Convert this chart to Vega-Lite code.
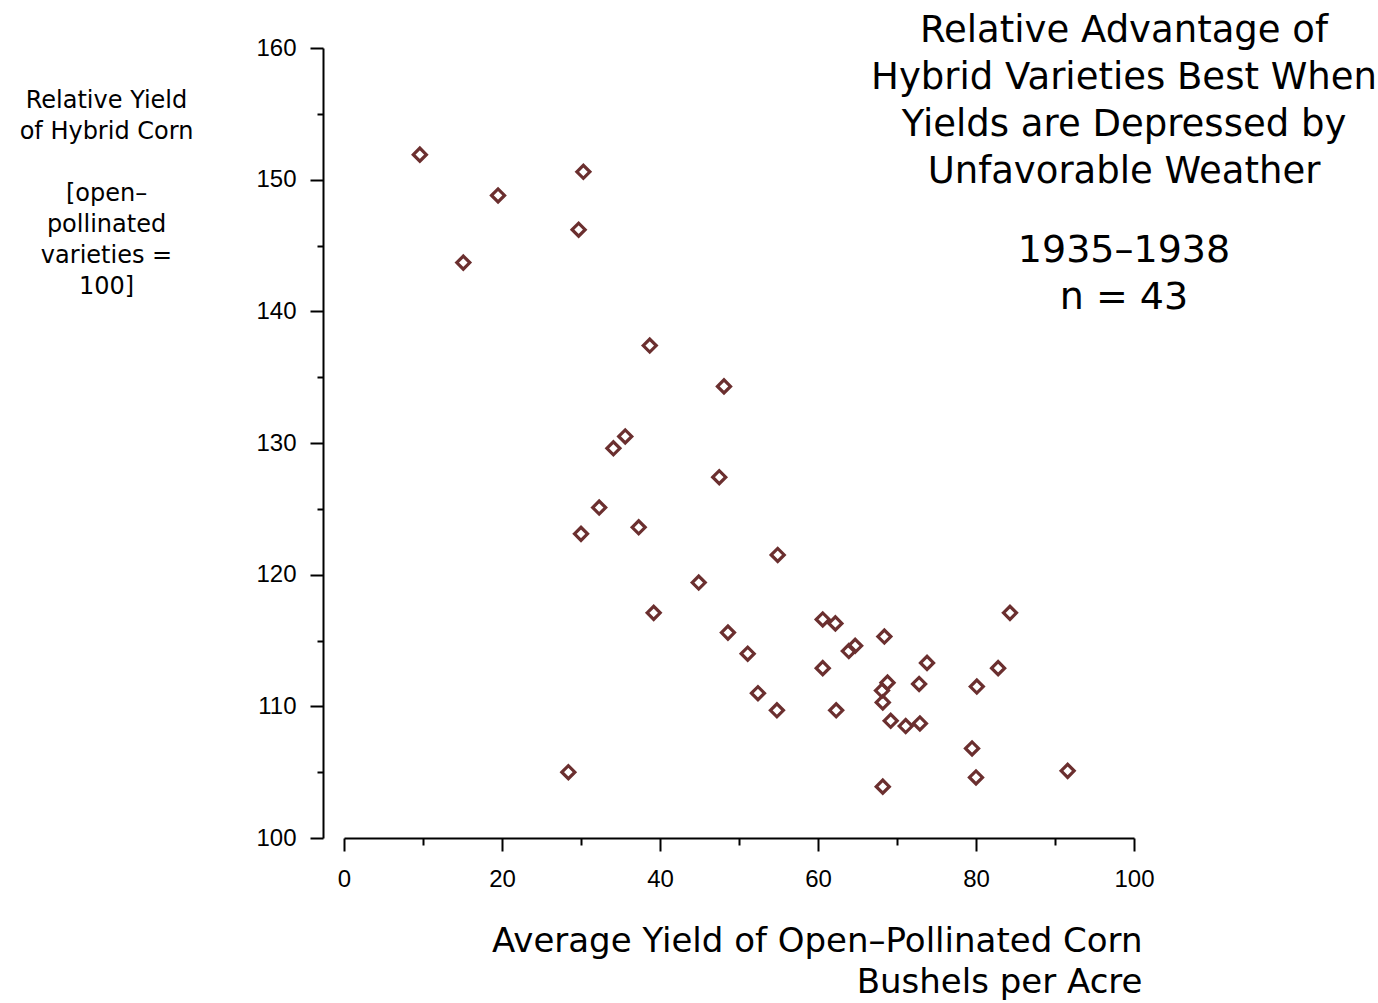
{
  "$schema": "https://vega.github.io/schema/vega-lite/v6.json",
  "width": 790,
  "height": 790,
  "autosize": {"type": "none"},
  "padding": {"left": 344, "top": 48, "right": 244, "bottom": 165},
  "background": "white",
  "config": {
    "view": {"stroke": null},
    "axis": {
      "grid": false,
      "domainColor": "black",
      "tickColor": "black",
      "domainWidth": 2,
      "tickWidth": 2,
      "labelFont": "Liberation Sans",
      "labelFontSize": 24,
      "labelColor": "black",
      "labelFlush": false,
      "titleColor": "black"
    }
  },
  "title": {
    "text": ["Relative Advantage of", "Hybrid Varieties Best When", "Yields are Depressed by", "Unfavorable Weather"],
    "subtitle": ["1935–1938", "n = 43"],
    "orient": "top",
    "anchor": "end",
    "align": "center",
    "frame": "group",
    "font": "DejaVu Sans",
    "fontSize": 37,
    "fontWeight": "normal",
    "lineHeight": 47,
    "color": "black",
    "subtitleFont": "DejaVu Sans",
    "subtitleFontSize": 38,
    "subtitleLineHeight": 47,
    "subtitleColor": "black",
    "subtitlePadding": 41,
    "offset": 0,
    "dx": -10,
    "dy": 282
  },
  "data": {
    "values": [
      {"x": 9.6, "y": 151.9},
      {"x": 15.1, "y": 143.7},
      {"x": 19.5, "y": 148.8},
      {"x": 30.3, "y": 150.6},
      {"x": 29.7, "y": 146.2},
      {"x": 28.4, "y": 105.0},
      {"x": 30.0, "y": 123.1},
      {"x": 32.3, "y": 125.1},
      {"x": 34.1, "y": 129.6},
      {"x": 35.6, "y": 130.5},
      {"x": 37.3, "y": 123.6},
      {"x": 38.7, "y": 137.4},
      {"x": 39.2, "y": 117.1},
      {"x": 44.9, "y": 119.4},
      {"x": 47.5, "y": 127.4},
      {"x": 48.1, "y": 134.3},
      {"x": 48.6, "y": 115.6},
      {"x": 51.1, "y": 114.0},
      {"x": 52.4, "y": 111.0},
      {"x": 54.9, "y": 121.5},
      {"x": 54.8, "y": 109.7},
      {"x": 60.6, "y": 116.6},
      {"x": 62.2, "y": 116.3},
      {"x": 60.6, "y": 112.9},
      {"x": 62.3, "y": 109.7},
      {"x": 63.9, "y": 114.2},
      {"x": 64.7, "y": 114.6},
      {"x": 68.4, "y": 115.3},
      {"x": 68.8, "y": 111.8},
      {"x": 68.1, "y": 111.2},
      {"x": 68.2, "y": 110.3},
      {"x": 69.2, "y": 108.9},
      {"x": 71.1, "y": 108.5},
      {"x": 72.9, "y": 108.7},
      {"x": 72.8, "y": 111.7},
      {"x": 73.8, "y": 113.3},
      {"x": 68.2, "y": 103.9},
      {"x": 79.5, "y": 106.8},
      {"x": 80.1, "y": 111.5},
      {"x": 80.0, "y": 104.6},
      {"x": 82.8, "y": 112.9},
      {"x": 84.3, "y": 117.1},
      {"x": 91.6, "y": 105.1}
    ]
  },
  "layer": [
    {
      "mark": {"type": "point", "opacity": 0},
      "encoding": {
        "x": {
          "field": "x", "type": "quantitative",
          "scale": {"domain": [0, 100], "nice": false, "zero": false},
          "axis": {"orient": "bottom", "values": [10, 30, 50, 70, 90], "tickSize": 7, "labels": false, "domain": false, "title": null}
        },
        "y": {
          "field": "y", "type": "quantitative",
          "scale": {"domain": [100, 160], "nice": false, "zero": false},
          "axis": {"orient": "left", "values": [105, 115, 125, 135, 145, 155], "tickSize": 6, "labels": false, "domain": false, "title": null, "offset": 21}
        }
      }
    },
    {
      "mark": {"type": "point", "shape": "diamond", "filled": false, "color": "#6b2f2f", "strokeWidth": 3.2, "size": 170, "opacity": 1},
      "encoding": {
        "x": {
          "field": "x", "type": "quantitative",
          "scale": {"domain": [0, 100], "nice": false, "zero": false},
          "axis": {
            "orient": "bottom",
            "values": [0, 20, 40, 60, 80, 100],
            "tickSize": 13,
            "labelPadding": 16,
            "title": ["Average Yield of Open–Pollinated Corn", "Bushels per Acre"],
            "titleFont": "DejaVu Sans",
            "titleFontSize": 34,
            "titleFontWeight": "normal",
            "titleLineHeight": 41,
            "titleAlign": "right",
            "titleBaseline": "alphabetic",
            "titleX": 798,
            "titleY": 113
          }
        },
        "y": {
          "field": "y", "type": "quantitative",
          "scale": {"domain": [100, 160], "nice": false, "zero": false},
          "axis": {
            "orient": "left",
            "values": [100, 110, 120, 130, 140, 150, 160],
            "tickSize": 13,
            "labelPadding": 14,
            "offset": 21,
            "title": ["Relative Yield", "of Hybrid Corn", "\u200b", "[open–", "pollinated", "varieties =", "100]"],
            "titleFont": "DejaVu Sans",
            "titleFontSize": 24,
            "titleFontWeight": "normal",
            "titleLineHeight": 31,
            "titleAngle": 0,
            "titleAlign": "center",
            "titleBaseline": "alphabetic",
            "titleX": -217,
            "titleY": 59
          }
        }
      }
    }
  ],
  "resolve": {"axis": {"x": "independent", "y": "independent"}}
}
